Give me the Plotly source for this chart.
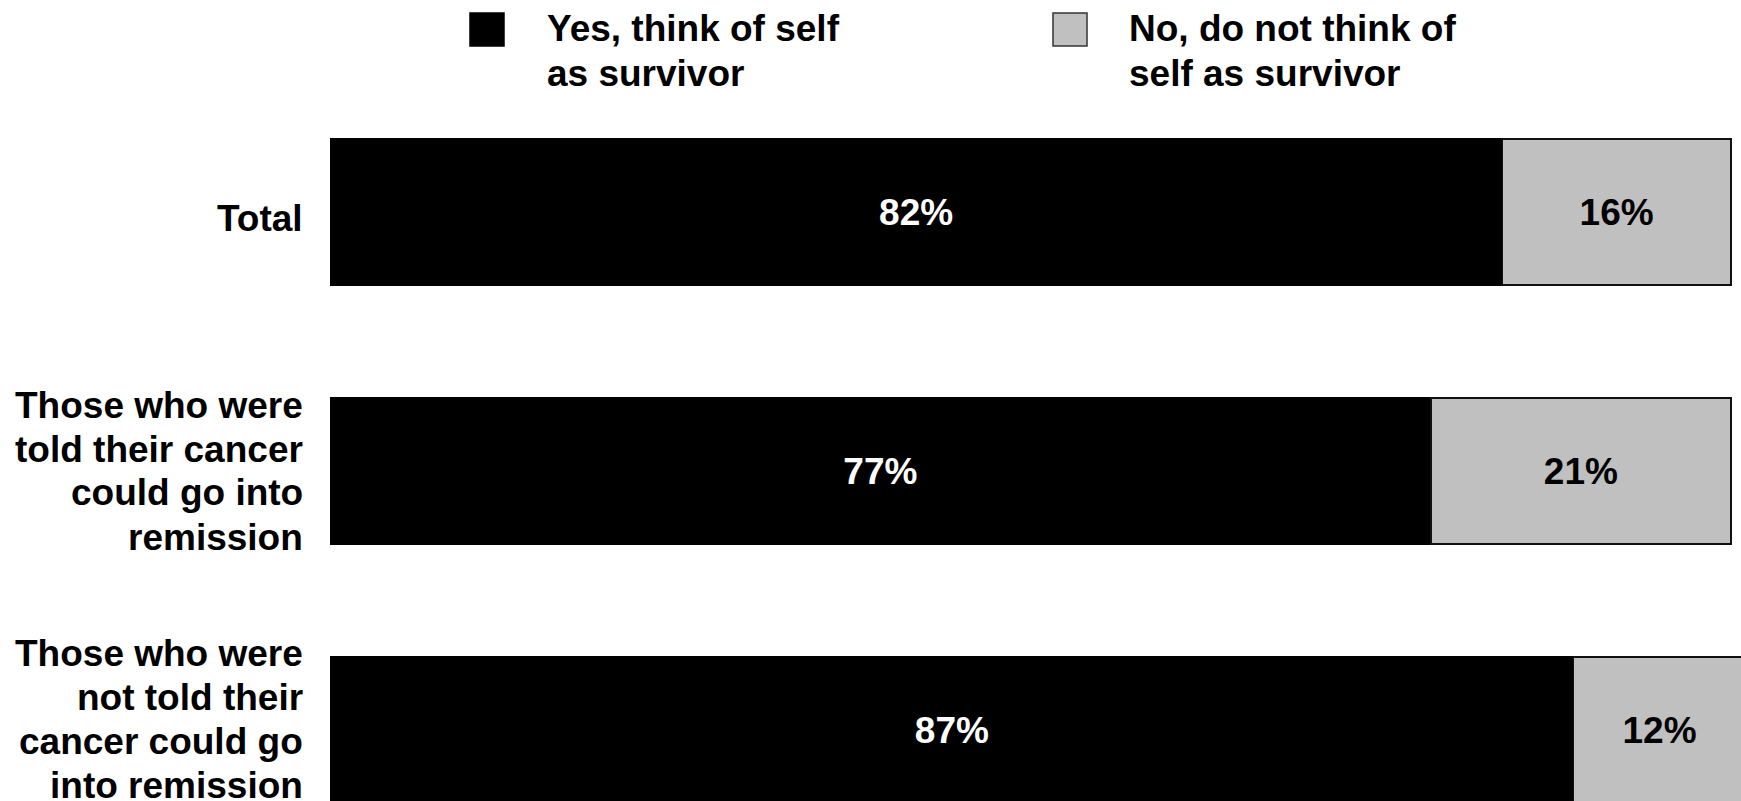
import plotly.graph_objects as go

categories = [
    "Total",
    "Those who were<br>told their cancer<br>could go into<br>remission",
    "Those who were<br>not told their<br>cancer could go<br>into remission",
]
yes_values = [82, 77, 87]
no_values = [16, 21, 12]
series_names = ["Yes, think of self<br>as survivor", "No, do not think of<br>self as survivor"]
yes_labels = [f"{v}%" for v in yes_values]
no_labels = [f"{v}%" for v in no_values]

FONT = "Arial, 'Liberation Sans', Helvetica, sans-serif"
W, H = 1741, 801
L = 330

fig = go.Figure()
fig.add_trace(go.Bar(
    y=categories, x=yes_values, orientation="h", name=series_names[0],
    marker=dict(color="#000000", line=dict(color="#000000", width=1.5)),
    text=yes_labels, textposition="inside", insidetextanchor="middle",
    textfont=dict(family=FONT, size=37, color="#ffffff", weight="bold"),
    width=0.564, showlegend=False, cliponaxis=True,
))
fig.add_trace(go.Bar(
    y=categories, x=no_values, orientation="h", name=series_names[1],
    marker=dict(color="#c0c0c0", line=dict(color="#111111", width=1.5)),
    text=no_labels, textposition="inside", insidetextanchor="middle",
    textfont=dict(family=FONT, size=37, color="#000000", weight="bold"),
    width=0.564, showlegend=False, cliponaxis=True,
))

px_per_unit = 1401 / 98.0
xmax = (W - L) / px_per_unit
fig.update_xaxes(range=[0, xmax], visible=False, showgrid=False, zeroline=False,
                 automargin=False)
fig.update_yaxes(
    categoryorder="array", categoryarray=categories,
    range=[2 + (801 - 730) / 259.0, -212 / 259.0],
    showgrid=False, zeroline=False, showline=False, ticks="",
    showticklabels=False, automargin=False,
)


def px2x(px):
    return (px - L) / (W - L)


def py2y(py):
    return 1 - py / H


shapes = []
annotations = []

# category labels, one annotation per line for tight line spacing
label_centers = [218, 471, 719]
line_gap = 44
for cat, c in zip(categories, label_centers):
    lines = cat.split("<br>")
    n = len(lines)
    for j, t in enumerate(lines):
        cy = c + (j - (n - 1) / 2) * line_gap
        annotations.append(dict(xref="paper", yref="paper", x=px2x(305), y=py2y(cy),
                                xanchor="right", yanchor="middle", showarrow=False,
                                text=t, align="right",
                                font=dict(family=FONT, size=37, color="#000000", weight="bold")))

# custom legend
swatches = [("#000000", "#000000", 470, 504, 545), ("#c0c0c0", "#333333", 1053, 1087, 1127)]
for (fill, line, x0, x1, tx), name in zip(swatches, series_names):
    shapes.append(dict(type="rect", xref="paper", yref="paper",
                       x0=px2x(x0), x1=px2x(x1), y0=py2y(46), y1=py2y(13),
                       fillcolor=fill, line=dict(color=line, width=1.5)))
    for i, line_text in enumerate(name.split("<br>")):
        annotations.append(dict(xref="paper", yref="paper", x=px2x(tx), y=py2y(29 + 44 * i),
                                xanchor="left", yanchor="middle", showarrow=False,
                                text=line_text,
                                font=dict(family=FONT, size=37, color="#000000", weight="bold")))

fig.update_layout(
    barmode="stack", width=W, height=H,
    margin=dict(l=L, r=0, t=0, b=0, autoexpand=False),
    plot_bgcolor="#ffffff", paper_bgcolor="#ffffff",
    shapes=shapes, annotations=annotations,
    uniformtext=dict(mode=False),
)

fig.write_html("out.html", config={"displayModeBar": False},
               post_script="document.body.style.margin='0px';document.body.style.overflow='hidden';")
